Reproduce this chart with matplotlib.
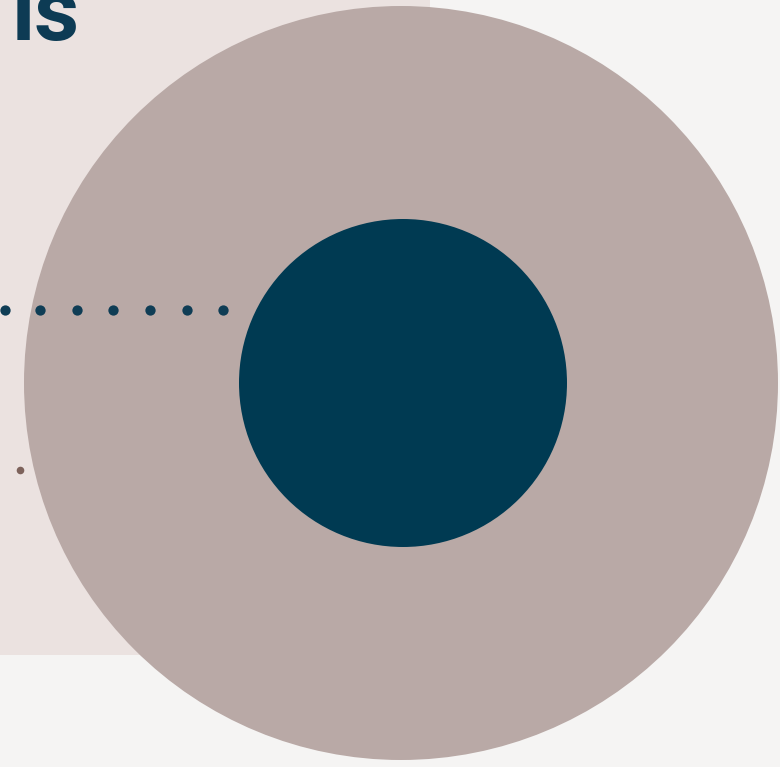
"""Nested circle callout: outer share circle with inner core circle."""
import matplotlib
matplotlib.use("Agg")
import matplotlib.pyplot as plt
from matplotlib.patches import Circle, Rectangle

# values (pixel space of the 780x767 canvas)
circle_names = ["outer", "inner"]
circle_radius = [377, 164]
circle_center = [(401, 383), (403, 383)]
circle_colors = ["#b9a9a6", "#003a52"]

leader_dots_x = [5, 40, 77, 113, 150, 187, 223]
leader_y = 310
marker_x, marker_y = 20, 470

BG = "#f5f4f3"
PANEL = "#ebe2e0"
NAVY = "#0d3b54"

fig = plt.figure(figsize=(7.8, 7.67), dpi=100)
fig.patch.set_facecolor(BG)
ax = fig.add_axes([0, 0, 1, 1])
ax.set_xlim(0, 780)
ax.set_ylim(767, 0)
ax.set_aspect("equal")
ax.axis("off")

ax.add_patch(Rectangle((0, 0), 430, 655, color=PANEL, lw=0, zorder=1))
for c, r, col in zip(circle_center, circle_radius, circle_colors):
    ax.add_patch(Circle(c, r, color=col, lw=0, zorder=2))

ax.scatter(leader_dots_x, [leader_y] * len(leader_dots_x), s=55,
           color="#0f3d55", lw=0, zorder=3)
ax.scatter([marker_x], [marker_y], s=30, color="#7d625b", lw=0, zorder=3)

ax.text(12, 40, "ls", family="Roboto", fontweight="bold", fontsize=63,
        color=NAVY, ha="left", va="baseline", zorder=4)

fig.savefig("out.png", facecolor=fig.get_facecolor())
